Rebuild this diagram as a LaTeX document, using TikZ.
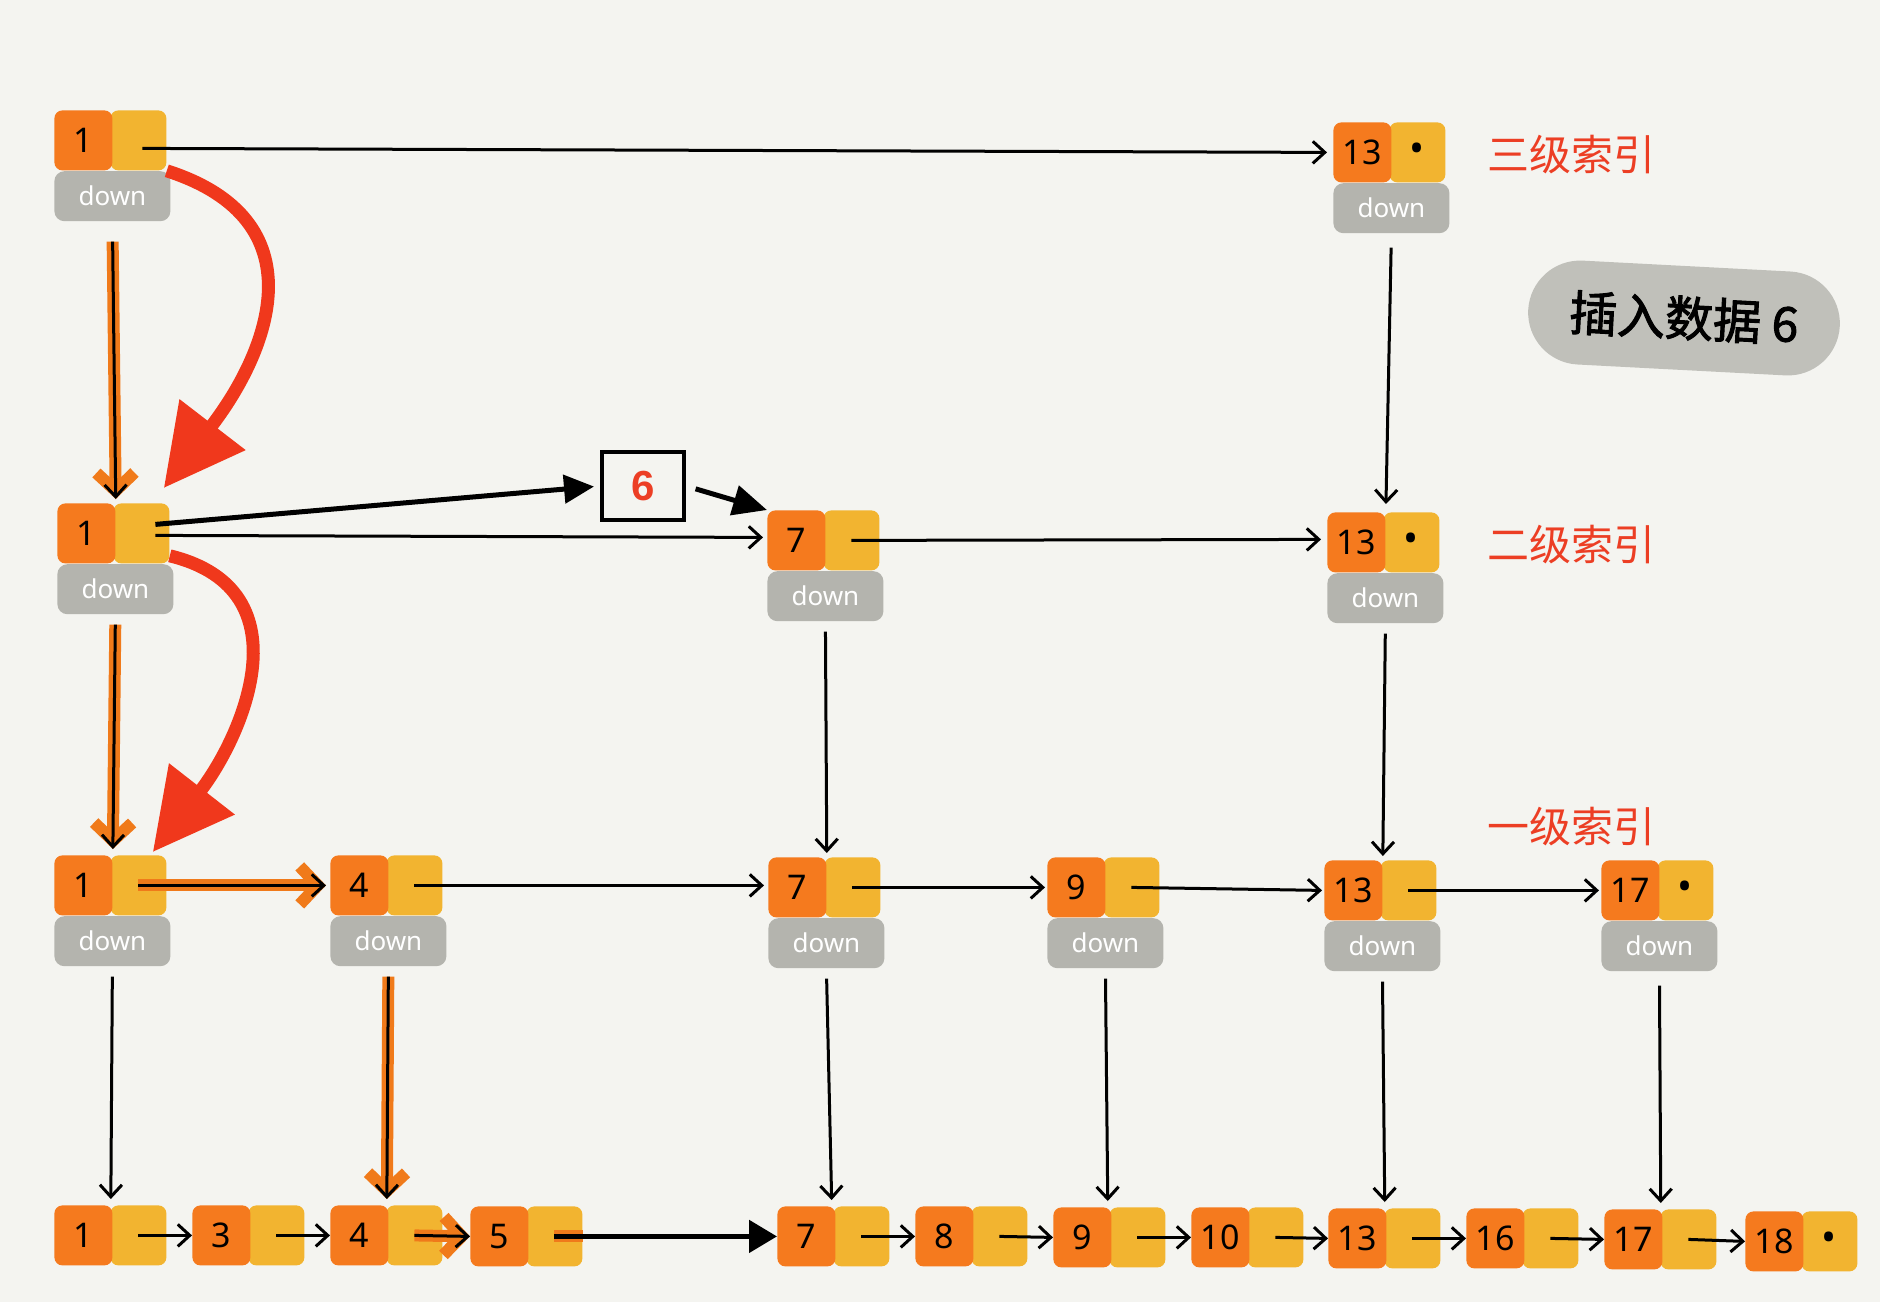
\documentclass[tikz,border=0pt]{standalone}
\usepackage{fontspec}
\setmainfont{Noto Sans}
\newfontfamily\cjk{Noto Sans CJK SC}
\newfontfamily\cjkb[FakeBold=2]{Noto Sans CJK SC}
\newfontfamily\libs{Liberation Sans}
\usetikzlibrary{arrows.meta,calc}
\definecolor{bg}{RGB}{244,244,240}
\definecolor{kcol}{RGB}{245,122,30}
\definecolor{pcol}{RGB}{242,180,48}
\definecolor{dcol}{RGB}{180,180,174}
\definecolor{redarr}{RGB}{240,56,28}
\definecolor{redtxt}{RGB}{236,62,36}
\definecolor{blobcol}{RGB}{192,192,186}
\definecolor{hl}{RGB}{240,122,26}
\newcommand{\slnode}[5]{%
  \node[pcell] (#1p) at (#2+56,#3) {#5};
  \node[kcell] (#1k) at (#2,#3) {#4};}
\newcommand{\sldown}[1]{\node[dcell] (#1d) at (#1k.south west) {down};}
\newcommand{\dotmark}{{\fontsize{20}{20}\selectfont\textbullet}}
\begin{document}
\begin{tikzpicture}[x=0.5pt,y=-0.5pt,
  kcell/.style={fill=kcol, rounded corners=4pt, minimum width=29pt, minimum height=30pt, inner sep=0pt, font=\fontsize{17}{17}\selectfont, anchor=north west},
  pcell/.style={fill=pcol, rounded corners=4pt, minimum width=28pt, minimum height=30pt, inner sep=0pt, anchor=north west},
  dcell/.style={fill=dcol, rounded corners=5pt, minimum width=58pt, minimum height=25pt, inner sep=0pt, text=white, font=\fontsize{13}{13}\selectfont, anchor=north west},
  ptr/.style={draw=black, line width=1.5pt, -{Straight Barb[length=6pt,width=11pt]}},
  hlptr/.style={draw=hl, line width=6pt, -{Straight Barb[length=9pt,width=19pt]}},
  fat/.style={draw=black, line width=2.5pt, -{Triangle[length=15pt,width=14pt]}},
  redcurve/.style={draw=redarr, line width=6.5pt, -{Triangle[length=40pt,width=40pt]}},
  lbl/.style={text=redtxt, font=\cjk\fontsize{21}{21}\selectfont},
]
\fill[bg] (0,0) rectangle (1880,1302);
\useasboundingbox (0,0) rectangle (1880,1302);

% level 3
\slnode{a1}{54}{110}{1}{} \sldown{a1}
\slnode{a13}{1333}{122}{13}{\dotmark} \sldown{a13}
% level 2
\slnode{b1}{57}{503}{1}{} \sldown{b1}
\slnode{b7}{767}{510}{7}{} \sldown{b7}
\slnode{b13}{1327}{512}{13}{\dotmark} \sldown{b13}
% level 1
\slnode{c1}{54}{855}{1}{} \sldown{c1}
\slnode{c4}{330}{855}{4}{} \sldown{c4}
\slnode{c7}{768}{857}{7}{} \sldown{c7}
\slnode{c9}{1047}{857}{9}{} \sldown{c9}
\slnode{c13}{1324}{860}{13}{} \sldown{c13}
\slnode{c17}{1601}{860}{17}{\dotmark} \sldown{c17}
% base list
\slnode{d1}{54}{1205}{1}{}
\slnode{d3}{192}{1205}{3}{}
\slnode{d4}{330}{1205}{4}{}
\slnode{d5}{470}{1206}{5}{}
\slnode{d7}{777}{1206}{7}{}
\slnode{d8}{915}{1206}{8}{}
\slnode{d9}{1053}{1207}{9}{}
\slnode{d10}{1191}{1207}{10}{}
\slnode{d13}{1328}{1208}{13}{}
\slnode{d16}{1466}{1208}{16}{}
\slnode{d17}{1604}{1209}{17}{}
\slnode{d18}{1745}{1211}{18}{\dotmark}

% labels
\node[lbl] (l3) at (1571,155) {三级索引};
\node[lbl] (l2) at (1571,545) {二级索引};
\node[lbl] (l1) at (1571,827) {一级索引};
\node[fill=blobcol, rounded corners=26pt, minimum width=156pt, minimum height=52pt, rotate=-3, font=\cjkb\fontsize{24}{24}\selectfont] (blob) at (1684,318) {插入数据 6};
\node[draw=black, line width=2pt, minimum width=41pt, minimum height=34pt, inner sep=0pt, text=redtxt, font=\libs\bfseries\fontsize{21}{21}\selectfont] (box6) at (643,486) {6};

% level 3 pointer
\draw[ptr] ($(a1p.center)+(4,8)$) -- ($(a13k.west)+(-6,0)$);
% down arrows level 3 -> 2
\draw[hlptr, shorten <=10pt, shorten >=2pt] (a1d.south) -- (b1k.north east);
\draw[ptr, shorten <=10pt, shorten >=2pt] (a1d.south) -- (b1k.north east);
\draw[ptr, shorten <=7pt, shorten >=4pt] (a13d.south) -- (b13k.north east);
% level 2 pointers
\draw[fat, shorten >=3pt] ($(b1p.center)+(14,-9)$) -- (box6.west);
\draw[fat, -{Triangle[length=17pt,width=15pt]}, shorten <=5pt] (box6.east) -- (b7k.north west);
\draw[ptr] ($(b1p.center)+(14,2)$) -- ($(b7k.west)+(-4,-3)$);
\draw[ptr] (b7p.center) -- ($(b13k.west)+(-6,-3)$);
% down arrows level 2 -> 1
\draw[hlptr, shorten <=5pt, shorten >=3pt] (b1d.south) -- (c1k.north east);
\draw[ptr, shorten <=5pt, shorten >=3pt] (b1d.south) -- (c1k.north east);
\draw[ptr, shorten <=5pt, shorten >=2pt] (b7d.south) -- (c7k.north east);
\draw[ptr, shorten <=5pt, shorten >=2pt] (b13d.south) -- (c13k.north east);
% level 1 pointers
\draw[hlptr] (c1p.center) -- ($(c4k.west)+(-4,0)$);
\draw[ptr] (c1p.center) -- ($(c4k.west)+(-4,0)$);
\draw[ptr] (c4p.center) -- ($(c7k.west)+(-4,-2)$);
\draw[ptr] (c7p.center) -- ($(c9k.west)+(-2,0)$);
\draw[ptr] (c9p.center) -- ($(c13k.west)+(-2,0)$);
\draw[ptr] (c13p.center) -- ($(c17k.west)+(-2,0)$);
% down arrows level 1 -> base
\draw[ptr, shorten <=5pt, shorten >=3pt] (c1d.south) -- ($(d1k.north east)+(-2,0)$);
\draw[hlptr, shorten <=5pt, shorten >=3pt] (c4d.south) -- ($(d4k.north east)+(-2,0)$);
\draw[ptr, shorten <=5pt, shorten >=3pt] (c4d.south) -- ($(d4k.north east)+(-2,0)$);
\draw[ptr, shorten <=5pt, shorten >=3pt] (c7d.south) -- ($(d7k.north east)+(-4,0)$);
\draw[ptr, shorten <=5pt, shorten >=3pt] (c9d.south) -- ($(d9k.north east)+(-4,0)$);
\draw[ptr, shorten <=5pt, shorten >=3pt] (c13d.south) -- ($(d13k.north east)+(-2,0)$);
\draw[ptr, shorten <=7pt, shorten >=3pt] (c17d.south) -- ($(d17k.north east)+(-2,0)$);
% base pointers
\draw[ptr] (d1p.center) -- (d3k.west);
\draw[ptr] (d3p.center) -- (d4k.west);
\draw[hlptr] (d4p.center) -- (d5k.west);
\draw[ptr] (d4p.center) -- (d5k.west);
\draw[draw=hl, line width=6pt] (d5p.center) -- (d5p.east);
\draw[fat, -{Triangle[length=14pt,width=16pt]}] (d5p.center) -- (d7k.west);
\draw[ptr] (d7p.center) -- (d8k.west);
\draw[ptr] (d8p.center) -- (d9k.west);
\draw[ptr] (d9p.center) -- (d10k.west);
\draw[ptr] (d10p.center) -- (d13k.west);
\draw[ptr] (d13p.center) -- (d16k.west);
\draw[ptr] (d16p.center) -- (d17k.west);
\draw[ptr] (d17p.center) -- (d18k.west);

% red search path curves
\draw[redcurve] (a1p.south east) .. controls (320,220) and (270,350) .. ($(b1p.north east)+(-6,-15)$);
\draw[redcurve] ($(b1p.south east)+(0,-8)$) .. controls (310,590) and (240,740) .. ($(c1p.north east)+(-14,-3)$);
\end{tikzpicture}
\end{document}
